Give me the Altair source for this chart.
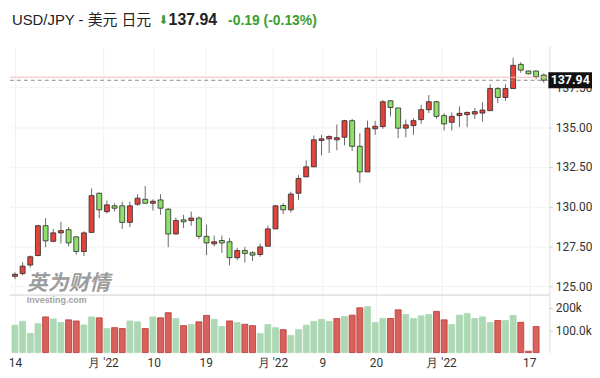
import json
import altair as alt
import pandas as pd

# ---------------- data ----------------
opens = [125.62, 125.79, 126.33, 126.93, 128.80, 127.82, 128.35, 128.55, 128.10, 127.18,
         128.38, 130.84, 129.69, 130.05, 130.05, 129.01, 130.15, 130.46, 130.21, 130.42,
         129.84, 128.28, 129.17, 129.13, 129.28, 128.13, 127.66, 127.87, 127.79, 126.79,
         127.24, 127.10, 126.99, 127.51, 128.60, 130.07, 129.80, 130.84, 131.87, 132.50,
         134.16, 134.26, 134.20, 134.36, 135.40, 133.79, 132.18, 134.89, 135.03, 136.65,
         136.20, 134.93, 135.09, 135.47, 136.09, 136.59, 135.72, 135.30, 135.72, 135.78,
         135.82, 135.88, 136.03, 137.42, 136.86, 137.42, 138.94, 138.52, 138.52, 138.27]
closes = [125.75, 126.26, 126.85, 128.80, 127.85, 128.35, 128.49, 127.72, 127.18, 128.35,
          130.69, 129.80, 130.11, 129.90, 129.01, 130.05, 130.53, 130.21, 130.34, 129.90,
          128.28, 129.13, 129.05, 129.28, 128.13, 127.72, 127.79, 127.72, 126.79, 127.24,
          127.06, 126.95, 127.47, 128.60, 130.05, 129.80, 130.79, 131.77, 132.50, 134.20,
          134.26, 134.41, 134.33, 135.40, 133.79, 132.18, 134.93, 135.05, 136.59, 136.23,
          134.93, 135.14, 135.40, 136.09, 136.59, 135.67, 135.20, 135.67, 135.86, 135.92,
          135.97, 136.07, 137.42, 136.86, 137.42, 138.88, 138.58, 138.35, 138.17, 137.94]
highs = [125.87, 126.51, 126.93, 128.86, 129.28, 128.60, 129.05, 128.72, 128.13, 128.45,
         131.15, 130.88, 130.38, 130.21, 130.31, 130.31, 130.78, 131.29, 130.46, 130.78,
         129.90, 129.32, 129.49, 129.69, 129.38, 128.86, 128.18, 128.18, 128.03, 127.41,
         127.47, 127.20, 127.68, 128.80, 130.11, 130.21, 130.94, 131.98, 132.91, 134.47,
         134.51, 134.47, 135.16, 135.45, 135.51, 134.61, 135.40, 135.39, 136.69, 136.69,
         136.20, 135.47, 135.55, 136.40, 137.01, 136.65, 135.88, 135.92, 136.30, 135.97,
         136.20, 136.55, 137.69, 137.52, 137.69, 139.35, 139.08, 138.56, 138.56, 138.37]
lows = [125.44, 125.69, 126.17, 126.87, 127.45, 127.76, 127.68, 127.51, 126.98, 126.89,
        128.35, 129.28, 129.55, 129.69, 128.60, 128.72, 130.05, 130.17, 129.75, 129.49,
        127.45, 128.24, 128.66, 128.80, 127.97, 126.95, 127.51, 127.10, 126.31, 126.64,
        126.48, 126.58, 126.85, 127.51, 128.60, 129.53, 129.63, 130.42, 131.87, 132.50,
        133.22, 133.37, 133.54, 133.85, 133.49, 131.50, 132.18, 134.51, 134.89, 135.67,
        134.30, 134.36, 134.51, 135.20, 135.88, 135.51, 134.78, 134.78, 134.99, 134.99,
        135.51, 135.34, 136.03, 136.51, 136.65, 137.42, 138.41, 138.31, 138.00, 137.79]

volumes_k = [123, 140, 86, 130, 160, 151, 135, 147, 142, 124,
             160, 156, 108, 112, 108, 142, 138, 108, 160, 156,
             179, 153, 121, 126, 138, 167, 149, 117, 142, 135,
             127, 121, 86, 126, 112, 103, 77, 103, 123, 140,
             149, 140, 153, 162, 168, 201, 206, 135, 153, 153,
             192, 171, 153, 165, 171, 185, 147, 126, 168, 176,
             153, 160, 135, 144, 144, 167, 136, 6, 117]
vol_dir = ["d", "d", "d", "d", "u", "d", "d", "u", "u", "d",
           "d", "u", "d", "u", "u", "d", "d", "u", "d", "u",
           "u", "d", "u", "d", "u", "u", "d", "d", "u", "d",
           "u", "u", "d", "d", "d", "u", "d", "d", "d", "d",
           "d", "d", "u", "d", "u", "u", "d", "d", "d", "u",
           "u", "d", "d", "d", "d", "u", "u", "d", "d", "d",
           "d", "d", "d", "u", "d", "d", "u", "u", "u"]

tick_pos = [0, 11.5, 18.1, 24.9, 33.6, 40.1, 47.1, 55.6, 67.1]
tick_text = ["14", "月 '22", "10", "19", "月 '22", "9", "20", "月 '22", "17"]
price_ticks = [125, 127.5, 130, 132.5, 135, 137.5]
vol_ticks = [100000, 200000]
vol_tick_text = ["100.0k", "200k"]

last_price = 137.94
prev_close = 138.13
title_pair = "USD/JPY - 美元 日元"
title_price = "137.94"
title_change = "-0.19 (-0.13%)"

# ---------------- tables ----------------
candles = pd.DataFrame({"i": list(range(len(opens))), "open": opens, "close": closes,
                        "high": highs, "low": lows})
vols = pd.DataFrame({"i": list(range(len(volumes_k))),
                     "vol": [v * 1000 for v in volumes_k], "dir": vol_dir})

W = 544
X_DOM = [-0.647, 69.73]
P_DOM = [124.44, 140.08]
V_DOM = [0, 258000]

RED = "#e2443c"
GREEN = "#8ee06a"
FONT = "Liberation Sans, Noto Sans CJK SC, sans-serif"
AXFONT = "Roboto, Liberation Sans, sans-serif"


def x_label_expr(pos, txt):
    expr = "''"
    for p, t in reversed(list(zip(pos, txt))):
        expr = f"abs(datum.value - {p}) < 0.01 ? {json.dumps(t, ensure_ascii=False)} : ({expr})"
    return expr


def v_label_expr(vals, txt):
    expr = "''"
    for v, t in reversed(list(zip(vals, txt))):
        expr = f"datum.value == {v} ? {json.dumps(t)} : ({expr})"
    return expr


xscale = alt.Scale(domain=X_DOM, nice=False, zero=False, padding=0)
noview = alt.ViewConfig(stroke="transparent", strokeWidth=0)

# ---------------- header ----------------
one = pd.DataFrame({"k": [0]})
hbase = alt.Chart(one)
h_title = hbase.mark_text(align="left", baseline="middle", font=FONT, fontSize=15,
                          color="#222").encode(x=alt.value(2), y=alt.value(11),
                                               text=alt.value(title_pair))
h_arrow = hbase.mark_text(align="center", baseline="middle", font="DejaVu Sans", fontSize=12,
                          color="#3a9d2f").encode(x=alt.value(155), y=alt.value(11),
                                                  text=alt.value("⬇"))
h_price = hbase.mark_text(align="left", baseline="middle", font=FONT, fontSize=16,
                          fontWeight="bold", color="#222").encode(
    x=alt.value(160), y=alt.value(11), text=alt.value(title_price))
h_change = hbase.mark_text(align="left", baseline="middle", font=FONT, fontSize=14,
                           fontWeight="bold", color="#3a9d2f").encode(
    x=alt.value(220), y=alt.value(12), text=alt.value(title_change))
header = alt.layer(h_title, h_arrow, h_price, h_change).properties(
    width=W, height=37, view=noview)

# ---------------- price panel ----------------
pbase = alt.Chart(candles)
x_enc = alt.X("i:Q", scale=xscale,
              axis=alt.Axis(values=tick_pos, labels=False, ticks=False, domain=False,
                            grid=True, gridColor="#f1f1f1", title=None))
y_axis = alt.Axis(orient="right", values=price_ticks, format=".2f", title=None,
                  labelFont=AXFONT, labelFontSize=12, labelColor="#333", tickSize=3,
                  tickColor="#ccc", domainColor="#ddd", gridColor="#f1f1f1", labelPadding=3)

wicks = pbase.mark_rule(color="#6a6a6a", strokeWidth=1).encode(
    x=x_enc,
    y=alt.Y("low:Q", scale=alt.Scale(domain=P_DOM, nice=False, zero=False), axis=y_axis),
    y2="high:Q")
bodies = pbase.mark_bar(size=5, stroke="#2a2a2a", strokeWidth=0.8).encode(
    x="i:Q", y="open:Q", y2="close:Q",
    color=alt.condition(alt.datum.close >= alt.datum.open, alt.value(RED), alt.value(GREEN)))

lines = pd.DataFrame({"prev": [prev_close], "last": [last_price], "txt": [title_price]})
lbase = alt.Chart(lines)
prev_rule = lbase.mark_rule(color="#f5b8b8", strokeWidth=1).encode(
    y="prev:Q", x=alt.value(0), x2=alt.value(W))
last_rule = lbase.mark_rule(color="#8a8a8a", strokeWidth=1, strokeDash=[4, 3]).encode(
    y="last:Q", x=alt.value(0), x2=alt.value(W))
box = lbase.mark_point(shape="M-2.2,-0.8L2.2,-0.8L2.2,0.8L-2.2,0.8Z", size=400, filled=True,
                       color="#111", opacity=1).encode(y="last:Q", x=alt.value(565))
box_txt = lbase.mark_text(font=AXFONT, fontSize=12.5, fontWeight="bold", color="white",
                          align="center", baseline="middle").encode(
    y="last:Q", x=alt.value(565), text="txt:N")

wm1 = alt.Chart(one).mark_text(align="left", baseline="middle", font="Noto Sans CJK SC",
                               fontSize=21, fontWeight="bold", fontStyle="italic",
                               color="#8c8c8c", opacity=0.85).encode(
    x=alt.value(17), y=alt.value(240), text=alt.value("英为财情"))
wm2 = alt.Chart(one).mark_text(align="left", baseline="middle", font=FONT,
                               fontSize=9, fontWeight="bold", color="#9a9a9a",
                               opacity=0.9).encode(
    x=alt.value(17), y=alt.value(256), text=alt.value("Investing.com"))

price = alt.layer(wicks, bodies, prev_rule, last_rule, box, box_txt, wm1, wm2).properties(
    width=W, height=251, view=noview)

# ---------------- volume panel ----------------
vbase = alt.Chart(vols)
vbars = vbase.mark_bar(size=6, strokeWidth=0.8).encode(
    x=alt.X("i:Q", scale=xscale,
            axis=alt.Axis(values=tick_pos, labelExpr=x_label_expr(tick_pos, tick_text),
                          ticks=False, domain=False, grid=True, gridColor="#f1f1f1",
                          labelFont=AXFONT, labelFontSize=12, labelColor="#333",
                          labelPadding=5, labelFlush=False, title=None)),
    y=alt.Y("vol:Q", scale=alt.Scale(domain=V_DOM, nice=False),
            axis=alt.Axis(orient="right", values=vol_ticks,
                          labelExpr=v_label_expr(vol_ticks, vol_tick_text), grid=False,
                          labelFont=AXFONT, labelFontSize=12, labelColor="#333",
                          tickSize=3, tickColor="#ccc", domainColor="#ddd",
                          labelPadding=3, title=None)),
    color=alt.condition(alt.datum.dir == "u", alt.value("#d9605b"), alt.value("#acd8b4")),
    stroke=alt.condition(alt.datum.dir == "u", alt.value("#b53a36"), alt.value("#acd8b4")))
sep = alt.Chart(one).mark_rule(color="#cfcfcf", strokeWidth=1).encode(
    x=alt.value(0), x2=alt.value(W), y=alt.value(0))
volume = alt.layer(vbars, sep).properties(width=W, height=58, view=noview)

chart = alt.vconcat(header, price, volume, spacing=0, bounds="flush").resolve_scale(
    x="independent", y="independent").properties(padding=0).configure_view(
    stroke="transparent", strokeWidth=0).configure(background="white")

chart.save("out.html", embed_options={"renderer": "svg", "actions": False})
